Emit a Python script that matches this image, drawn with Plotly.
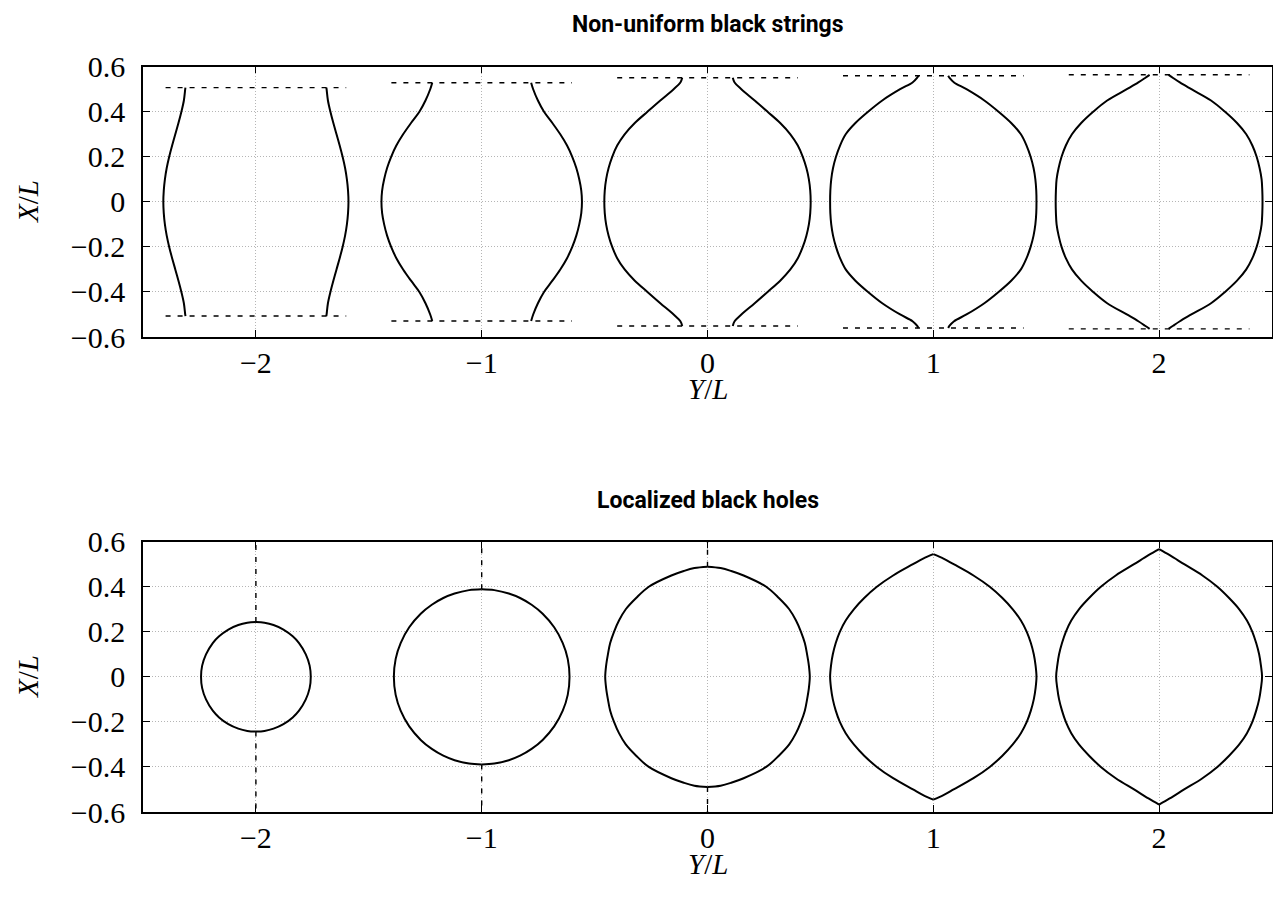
import plotly.graph_objects as go

# --- datos ---

centros = [-2, -1, 0, 1, 2]

# cuerdas no uniformes: semi-anchura r(X) para X >= 0 (simétrico en X)
cuerda_x_m2 = [0.0, 0.05, 0.10, 0.15, 0.20, 0.25, 0.30, 0.35, 0.40, 0.45, 0.50, 0.507]
cuerda_r_m2 = [0.410, 0.408, 0.403, 0.395, 0.384, 0.371, 0.357, 0.343, 0.330, 0.319, 0.313, 0.312]

cuerda_x_m1 = [0.0, 0.05, 0.10, 0.15, 0.20, 0.25, 0.30, 0.35, 0.40, 0.45, 0.50, 0.529]
cuerda_r_m1 = [0.444, 0.441, 0.432, 0.419, 0.401, 0.378, 0.348, 0.313, 0.276, 0.249, 0.228, 0.219]

cuerda_x_0 = [0.0, 0.05, 0.10, 0.15, 0.20, 0.25, 0.30, 0.35, 0.40, 0.45, 0.50, 0.53, 0.551]
cuerda_r_0 = [0.457, 0.455, 0.449, 0.438, 0.422, 0.400, 0.367, 0.322, 0.266, 0.209, 0.150, 0.120, 0.112]

cuerda_x_p1 = [0.0, 0.05, 0.10, 0.15, 0.20, 0.25, 0.30, 0.35, 0.40, 0.45, 0.50, 0.53, 0.55, 0.560]
cuerda_r_p1 = [0.457, 0.456, 0.452, 0.444, 0.431, 0.413, 0.388, 0.345, 0.289, 0.226, 0.147, 0.092, 0.072, 0.066]

cuerda_x_p2 = [0.0, 0.05, 0.10, 0.15, 0.20, 0.25, 0.30, 0.35, 0.40, 0.45, 0.50, 0.53, 0.55, 0.564]
cuerda_r_p2 = [0.458, 0.457, 0.454, 0.445, 0.432, 0.413, 0.386, 0.345, 0.292, 0.230, 0.143, 0.092, 0.062, 0.042]

# líneas discontinuas horizontales (corte en X = ±h, de Y = c - a hasta c + a)
cuerda_corte_h = [0.507, 0.529, 0.551, 0.560, 0.564]
cuerda_corte_a = [0.40, 0.40, 0.40, 0.40, 0.40]

# agujeros negros localizados: semi-anchura w(X) para X >= 0
agujero_x_m2 = [0.0, 0.05, 0.10, 0.15, 0.18, 0.21, 0.23, 0.24, 0.243]
agujero_w_m2 = [0.243, 0.238, 0.221, 0.191, 0.163, 0.122, 0.078, 0.038, 0.0]

agujero_x_m1 = [0.0, 0.08, 0.15, 0.22, 0.28, 0.32, 0.35, 0.37, 0.385, 0.389]
agujero_w_m1 = [0.389, 0.381, 0.359, 0.321, 0.270, 0.221, 0.170, 0.120, 0.056, 0.0]

agujero_x_0 = [0.0, 0.05, 0.10, 0.15, 0.20, 0.25, 0.30, 0.35, 0.40, 0.45, 0.47, 0.483, 0.489]
agujero_w_0 = [0.453, 0.449, 0.441, 0.431, 0.414, 0.392, 0.362, 0.316, 0.260, 0.160, 0.105, 0.058, 0.0]

agujero_x_p1 = [0.0, 0.05, 0.10, 0.15, 0.20, 0.25, 0.30, 0.35, 0.40, 0.45, 0.50, 0.525, 0.545]
agujero_w_p1 = [0.457, 0.453, 0.445, 0.432, 0.414, 0.388, 0.352, 0.306, 0.250, 0.178, 0.090, 0.045, 0.0]

agujero_x_p2 = [0.0, 0.05, 0.10, 0.15, 0.20, 0.25, 0.30, 0.35, 0.40, 0.45, 0.50, 0.54, 0.567]
agujero_w_p2 = [0.456, 0.451, 0.443, 0.430, 0.413, 0.389, 0.355, 0.310, 0.258, 0.192, 0.111, 0.047, 0.0]

cuerdas = [(cuerda_x_m2, cuerda_r_m2), (cuerda_x_m1, cuerda_r_m1), (cuerda_x_0, cuerda_r_0),
           (cuerda_x_p1, cuerda_r_p1), (cuerda_x_p2, cuerda_r_p2)]
agujeros = [(agujero_x_m2, agujero_w_m2), (agujero_x_m1, agujero_w_m1), (agujero_x_0, agujero_w_0),
            (agujero_x_p1, agujero_w_p1), (agujero_x_p2, agujero_w_p2)]

FUENTE_SERIF = "Liberation Serif"
NEGRO = "black"

# tamaño de la figura (la página añade 8 px de margen al body)
ANCHO, ALTO, DESP = 1265, 885, 8
M_IZQ, M_DER = 135, 1
ANCHO_PLOT = ANCHO - M_IZQ - M_DER


def py(y_px):
    # píxel vertical de pantalla -> fracción del papel
    return 1 - (y_px - DESP) / ALTO


def px(x_px):
    # píxel horizontal de pantalla -> fracción del papel
    return (x_px - DESP - M_IZQ) / ANCHO_PLOT


def espejo(xs, rs):
    # perfil completo de -h a h a partir de la mitad X >= 0
    x_full = [-x for x in reversed(xs[1:])] + list(xs)
    r_full = list(reversed(rs[1:])) + list(rs)
    return x_full, r_full


fig = go.Figure()
linea_curva = dict(color=NEGRO, width=2, shape="spline", smoothing=1.0)
linea_disc = dict(color=NEGRO, width=1.4, dash="5px,7px")

# --- panel superior: cuerdas no uniformes ---
for c, (xs, rs), h, a in zip(centros, cuerdas, cuerda_corte_h, cuerda_corte_a):
    x_full, r_full = espejo(xs, rs)
    for signo in (-1, 1):
        fig.add_trace(go.Scatter(x=[c + signo * r for r in r_full], y=x_full, mode="lines",
                                 line=linea_curva, xaxis="x", yaxis="y",
                                 showlegend=False, hoverinfo="skip"))
    for xh in (h, -h):
        fig.add_trace(go.Scatter(x=[c - a, c + a], y=[xh, xh], mode="lines", line=linea_disc,
                                 xaxis="x", yaxis="y", showlegend=False, hoverinfo="skip"))

# --- panel inferior: agujeros negros localizados ---
for c, (xs, ws) in zip(centros, agujeros):
    x_full, w_full = espejo(xs, ws)
    for signo in (-1, 1):
        fig.add_trace(go.Scatter(x=[c + signo * w for w in w_full], y=x_full, mode="lines",
                                 line=linea_curva, xaxis="x2", yaxis="y2",
                                 showlegend=False, hoverinfo="skip"))
    tope = xs[-1]
    if tope < 0.5:
        for s in (1, -1):
            fig.add_trace(go.Scatter(x=[c, c], y=[s * tope, s * 0.6], mode="lines", line=linea_disc,
                                     xaxis="x2", yaxis="y2", showlegend=False, hoverinfo="skip"))

comun = dict(showgrid=True, gridcolor="#b5b5b5", griddash="1px,2px", gridwidth=1, zeroline=False,
             showline=True, linecolor=NEGRO, linewidth=1.5, mirror="ticks", ticks="inside",
             ticklen=7, tickcolor=NEGRO, tickwidth=1.2,
             tickfont=dict(family=FUENTE_SERIF, size=30, color=NEGRO), automargin=False)
eje_x = dict(comun, range=[-2.5, 2.5], tickvals=[-2, -1, 0, 1, 2], ticklabelstandoff=-2)
eje_y = dict(comun, range=[-0.6, 0.6], tickvals=[-0.6, -0.4, -0.2, 0, 0.2, 0.4, 0.6],
             ticklabelstandoff=10)

fig.update_layout(
    width=ANCHO, height=ALTO,
    margin=dict(l=M_IZQ, r=M_DER, t=0, b=0),
    plot_bgcolor="white", paper_bgcolor="white",
    xaxis=dict(eje_x, domain=[0, 1], anchor="y"),
    yaxis=dict(eje_y, domain=[py(337), py(66.7)], anchor="x"),
    xaxis2=dict(eje_x, domain=[0, 1], anchor="y2"),
    yaxis2=dict(eje_y, domain=[py(812), py(541.7)], anchor="x2"),
)

titulos = [("Non-uniform black strings", 25), ("Localized black holes", 500)]
for texto, y_px in titulos:
    fig.add_annotation(text="<b>" + texto + "</b>", x=0.5, y=py(y_px), xref="paper", yref="paper",
                       showarrow=False, yanchor="middle",
                       font=dict(family="Roboto", size=23, color=NEGRO))

for y_px in (389, 864):
    fig.add_annotation(text="<i>Y</i>/<i>L</i>", x=0.5, y=py(y_px), xref="paper", yref="paper",
                       showarrow=False, yanchor="middle",
                       font=dict(family=FUENTE_SERIF, size=29, color=NEGRO))
for y_px in (202, 677):
    fig.add_annotation(text="<i>X</i>/<i>L</i>", x=px(28), y=py(y_px), xref="paper", yref="paper",
                       showarrow=False, xanchor="center", yanchor="middle", textangle=-90,
                       font=dict(family=FUENTE_SERIF, size=29, color=NEGRO))

fig.write_html("out.html")
